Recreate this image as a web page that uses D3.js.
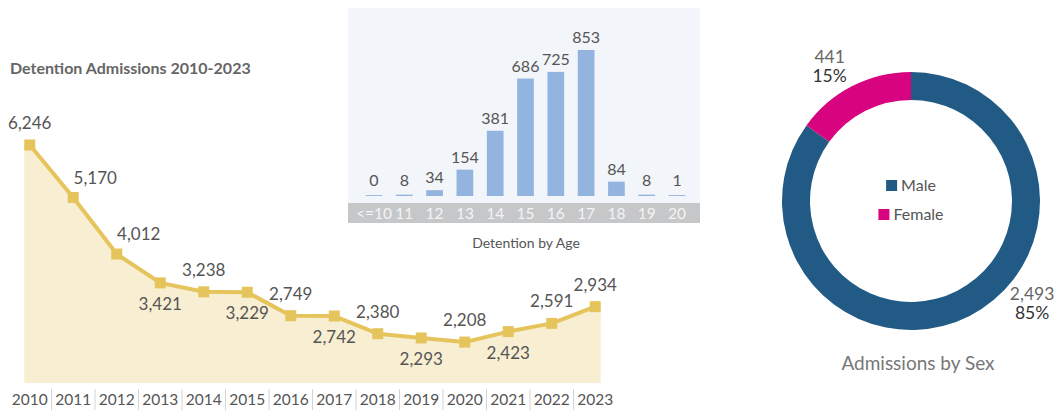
<!DOCTYPE html>
<html>
<head>
<meta charset="utf-8">
<script src="https://cdn.jsdelivr.net/npm/d3@7"></script>
<style>
  html, body { margin: 0; padding: 0; background: #fff; }
  svg { display: block; font-family: Lato, "Open Sans", sans-serif; }
</style>
</head>
<body>
<svg id="chart" width="1060" height="410"></svg>
<script>
// ---- Detention admissions by year ----
const years = ["2010","2011","2012","2013","2014","2015","2016","2017","2018","2019","2020","2021","2022","2023"];
const admissions = [6246, 5170, 4012, 3421, 3238, 3229, 2749, 2742, 2380, 2293, 2208, 2423, 2591, 2934];
// where each year's value label sits relative to its marker
const labelPlacement = ["above","right","right","below","above","below","above","below","above","below","above","below","above","above"];

// ---- Detention by age ----
const ages = ["<=10","11","12","13","14","15","16","17","18","19","20"];
const ageCounts = [0, 8, 34, 154, 381, 686, 725, 853, 84, 8, 1];

// ---- Admissions by sex ----
const sexes = ["Male", "Female"];
const sexCounts = [2493, 441];
const sexShares = ["85%", "15%"];

const svg = d3.select("#chart");
const fmt = d3.format(",");

/* ================= Line / area chart ================= */
{
  const g = svg.append("g");
  const x = d3.scaleBand().domain(years).range([8, 617]).padding(0);
  const cx = d => x(d) + x.bandwidth() / 2;
  const y = d3.scaleLinear().domain([1370, 6246]).range([383, 145]);
  const pts = years.map((yr, i) => ({ yr, v: admissions[i], place: labelPlacement[i] }));
  const half = 5.5;

  g.append("text")
    .attr("x", 10).attr("y", 74)
    .attr("font-size", 16).attr("font-weight", 700).attr("fill", "#666")
    .text("Detention Admissions 2010-2023");

  // filled area, widened by half a marker at both ends
  const areaPts = [
    { px: cx(pts[0].yr) - half, v: pts[0].v },
    ...pts.map(p => ({ px: cx(p.yr), v: p.v })),
    { px: cx(pts[pts.length - 1].yr) + half, v: pts[pts.length - 1].v }
  ];
  g.append("path")
    .datum(areaPts)
    .attr("fill", "#f8eed2")
    .attr("d", d3.area().x(d => d.px).y0(y.range()[0]).y1(d => y(d.v)));

  g.append("path")
    .datum(pts)
    .attr("fill", "none").attr("stroke", "#e6c45c").attr("stroke-width", 4)
    .attr("stroke-linejoin", "round")
    .attr("d", d3.line().x(d => cx(d.yr)).y(d => y(d.v)));

  g.selectAll("rect.marker").data(pts).join("rect")
    .attr("class", "marker")
    .attr("x", d => cx(d.yr) - half).attr("y", d => y(d.v) - half)
    .attr("width", half * 2).attr("height", half * 2)
    .attr("fill", "#e6c45c");

  const offs = { above: [0, -16], below: [0, 27], right: [22, -14] };
  g.selectAll("text.val").data(pts).join("text")
    .attr("class", "val")
    .attr("x", d => cx(d.yr) + offs[d.place][0])
    .attr("y", d => y(d.v) + offs[d.place][1])
    .attr("text-anchor", "middle").attr("font-size", 17).attr("fill", "#555")
    .text(d => fmt(d.v));

  // year axis with thin separators between bands
  const axis = g.append("g").attr("transform", "translate(0,389)")
    .call(d3.axisBottom(x).tickSize(0).tickPadding(0));
  axis.select(".domain").remove();
  axis.selectAll("text")
    .attr("y", 16).attr("dy", 0)
    .attr("font-family", "Lato, sans-serif").attr("font-size", 15.5).attr("fill", "#555");
  g.selectAll("line.sep").data(years.slice(1)).join("line")
    .attr("class", "sep")
    .attr("x1", d => x(d)).attr("x2", d => x(d))
    .attr("y1", 389).attr("y2", 410)
    .attr("stroke", "#d4d4d4").attr("stroke-width", 1);
}

/* ================= Bar chart by age ================= */
{
  const g = svg.append("g");
  const left = 348, right = 700, top = 8, bottom = 223, bandH = 20;
  g.append("rect").attr("x", left).attr("y", top)
    .attr("width", right - left).attr("height", bottom - top).attr("fill", "#f2f5fa");
  g.append("rect").attr("x", left).attr("y", bottom - bandH)
    .attr("width", right - left).attr("height", bandH).attr("fill", "#c6c7c9");

  const x = d3.scaleBand().domain(ages).range([352, 699]).padding(0.45);
  const y = d3.scaleLinear().domain([0, d3.max(ageCounts)]).range([196, 50]);
  const data = ages.map((a, i) => ({ a, v: ageCounts[i] }));

  // faint baseline under every category
  g.selectAll("line.base").data(data).join("line")
    .attr("class", "base")
    .attr("x1", d => x(d.a)).attr("x2", d => x(d.a) + x.bandwidth())
    .attr("y1", y(0) - 0.5).attr("y2", y(0) - 0.5)
    .attr("stroke", "#9dbbe2").attr("stroke-width", 1);

  g.selectAll("rect.bar").data(data).join("rect")
    .attr("class", "bar")
    .attr("x", d => x(d.a)).attr("width", x.bandwidth())
    .attr("y", d => y(d.v)).attr("height", d => y(0) - y(d.v))
    .attr("fill", "#92b4de");

  g.selectAll("text.val").data(data).join("text")
    .attr("class", "val")
    .attr("x", d => x(d.a) + x.bandwidth() / 2)
    .attr("y", d => Math.min(y(d.v), y(0) - 3) - 7)
    .attr("text-anchor", "middle").attr("font-size", 16).attr("fill", "#555")
    .text(d => fmt(d.v));

  const axis = g.append("g").attr("transform", `translate(0,${bottom - bandH})`)
    .call(d3.axisBottom(x).tickSize(0).tickPadding(0));
  axis.select(".domain").remove();
  axis.selectAll("text")
    .attr("y", 16).attr("dy", 0)
    .attr("font-family", "Lato, sans-serif").attr("font-size", 15.5).attr("fill", "#f4f4f4");

  g.append("text").attr("x", 526).attr("y", 248)
    .attr("text-anchor", "middle").attr("font-size", 14).attr("fill", "#555")
    .text("Detention by Age");
}

/* ================= Donut by sex ================= */
{
  const cx = 911, cy = 201, rOuter = 129, rInner = 101;
  const colors = d3.scaleOrdinal().domain(sexes).range(["#215b85", "#d8047f"]);
  const g = svg.append("g").attr("transform", `translate(${cx},${cy})`);
  const data = sexes.map((s, i) => ({ s, v: sexCounts[i], pct: sexShares[i] }));
  const arcs = d3.pie().sort(null).value(d => d.v)(data);
  const arc = d3.arc().innerRadius(rInner).outerRadius(rOuter);

  g.selectAll("path").data(arcs).join("path")
    .attr("d", arc).attr("fill", d => colors(d.data.s));

  // outside labels: count over share
  const labelAngle = { Male: 130, Female: -31 };
  const rLab = 158;
  const lab = g.selectAll("g.lab").data(arcs).join("g")
    .attr("class", "lab")
    .attr("transform", d => {
      const a = labelAngle[d.data.s] * Math.PI / 180;
      return `translate(${rLab * Math.sin(a)},${-rLab * Math.cos(a)})`;
    });
  lab.append("text").attr("y", -3).attr("text-anchor", "middle")
    .attr("font-size", 17.5).attr("fill", "#666").text(d => fmt(d.data.v));
  lab.append("text").attr("y", 16).attr("text-anchor", "middle")
    .attr("font-size", 17.5).attr("fill", "#333").text(d => d.data.pct);

  // legend in the hole
  const leg = g.selectAll("g.leg").data(sexes).join("g")
    .attr("class", "leg")
    .attr("transform", (d, i) => `translate(0,${-10 + i * 29})`);
  leg.each(function (d) {
    const row = d3.select(this);
    const t = row.append("text").attr("font-size", 16).attr("fill", "#555")
      .attr("y", 0).text(d);
    const w = t.node().getComputedTextLength();
    const total = 11 + 4 + w;
    row.append("rect").attr("x", -total / 2).attr("y", -11)
      .attr("width", 11).attr("height", 11).attr("fill", colors(d));
    t.attr("x", -total / 2 + 15);
  });

  svg.append("text").attr("x", 918).attr("y", 370)
    .attr("text-anchor", "middle").attr("font-size", 19).attr("fill", "#777")
    .text("Admissions by Sex");
}
</script>
</body>
</html>
